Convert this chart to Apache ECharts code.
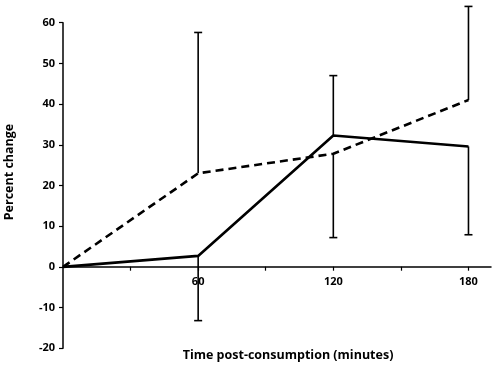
<!DOCTYPE html>
<html>
<head>
<meta charset="utf-8">
<script src="https://cdn.jsdelivr.net/npm/echarts@6/dist/echarts.min.js"></script>
<style>
  html, body { margin: 0; padding: 0; background: #fff; }
  #chart { width: 500px; height: 368px; }
</style>
</head>
<body>
<div id="chart"></div>
<script>
// time points (minutes)
var times = [0, 60, 120, 180]
// mean percent change
var solidMean = [0, 2.7, 32.3, 29.6]
var dashedMean = [0, 23.0, 27.8, 41.0]
// one-sided error bar end values (null = no bar)
var solidErrEnd = [null, -13.2, 47.0, 7.9]
var dashedErrEnd = [null, 57.6, 7.2, 64.0]
// axis ticks / labels
var xTicks = [30, 60, 90, 120, 150, 180]
var xLabels = [60, 120, 180]

var font = '"Open Sans", "DejaVu Sans", sans-serif'

function pairs(xs, ys) {
  return xs.map(function(x, i) { return [x, ys[i]] })
}

function errData(xs, mean, end) {
  var out = []
  xs.forEach(function(x, i) {
    if (end[i] != null) out.push([x, mean[i], end[i]])
  })
  return out
}

function renderErr(params, api) {
  var base = api.coord([api.value(0), api.value(1)])
  var tip = api.coord([api.value(0), api.value(2)])
  var w = 4
  var st = { stroke: '#000', lineWidth: 1.6 }
  return {
    type: 'group',
    children: [
      { type: 'line', shape: { x1: base[0], y1: base[1], x2: tip[0], y2: tip[1] }, style: st },
      { type: 'line', shape: { x1: tip[0] - w, y1: tip[1], x2: tip[0] + w, y2: tip[1] }, style: st }
    ]
  }
}

var chart = echarts.init(document.getElementById('chart'))
chart.setOption({
  animation: false,
  grid: { left: 63, right: 9, top: 22.7, bottom: 19.7 },
  xAxis: {
    type: 'value',
    min: 0,
    max: 190,
    interval: 30,
    // axis drawn at y = 0 (20 units of 80 above the bottom edge)
    offset: -81.6,
    splitLine: { show: false },
    axisLine: { onZero: false, lineStyle: { color: '#000', width: 1.5 } },
    axisTick: { show: true, customValues: xTicks, length: 4, lineStyle: { color: '#000', width: 1.2 } },
    axisLabel: {
      customValues: xLabels,
      color: '#000',
      fontFamily: font,
      fontWeight: 'bold',
      fontSize: 11,
      margin: 10
    }
  },
  yAxis: {
    type: 'value',
    min: -20,
    max: 60,
    interval: 10,
    splitLine: { show: false },
    axisLine: { show: true, onZero: false, lineStyle: { color: '#000', width: 1.5 } },
    axisTick: { show: true, length: 4, lineStyle: { color: '#000', width: 1.2 } },
    axisLabel: {
      color: '#000',
      fontFamily: font,
      fontWeight: 'bold',
      fontSize: 11,
      margin: 8
    }
  },
  graphic: [
    {
      type: 'text',
      x: 288,
      y: 349,
      style: {
        text: 'Time post-consumption (minutes)',
        font: 'bold 12.5px ' + font,
        fill: '#000',
        align: 'center',
        verticalAlign: 'top'
      }
    },
    {
      type: 'text',
      x: 3,
      y: 172,
      rotation: Math.PI / 2,
      style: {
        text: 'Percent change',
        font: 'bold 12.5px ' + font,
        fill: '#000',
        align: 'center',
        verticalAlign: 'top'
      }
    }
  ],
  series: [
    {
      type: 'custom',
      renderItem: renderErr,
      data: errData(times, solidMean, solidErrEnd),
      clip: false,
      z: 3
    },
    {
      type: 'custom',
      renderItem: renderErr,
      data: errData(times, dashedMean, dashedErrEnd),
      clip: false,
      z: 3
    },
    {
      type: 'line',
      data: pairs(times, solidMean),
      symbol: 'none',
      lineStyle: { color: '#000', width: 2.6 },
      z: 4
    },
    {
      type: 'line',
      data: pairs(times, dashedMean),
      symbol: 'none',
      lineStyle: { color: '#000', width: 2.6, type: [8, 5] },
      z: 4
    }
  ]
})
</script>
</body>
</html>
